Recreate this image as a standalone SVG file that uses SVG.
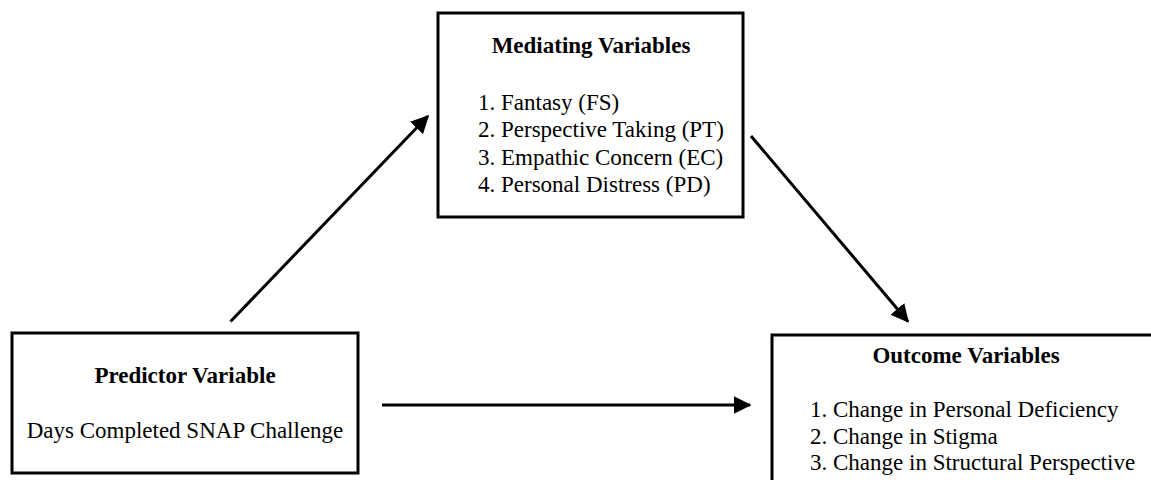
<svg xmlns="http://www.w3.org/2000/svg" width="1151" height="480" viewBox="0 0 1151 480">
<style>
.box{fill:#fff;stroke:#000;stroke-width:3}
.t{font-family:'Liberation Serif','Times New Roman','DejaVu Serif',serif;font-size:23px;fill:#000}
.b{font-weight:bold}
.c{text-anchor:middle}
.conn{stroke:#000;stroke-width:3;fill:none}
</style>
<defs>
<marker id="ah" markerWidth="6" markerHeight="6" refX="5.5" refY="3" orient="auto" markerUnits="strokeWidth" viewBox="0 0 6 6">
<path d="M0,0 L6,3 L0,6 Z" fill="#000"/>
</marker>
</defs>
<rect width="1151" height="480" fill="#fff"/>
<g id="mediating" font-family="Liberation Serif, Times New Roman, serif">
<rect class="box" x="438" y="13" width="305" height="204"/>
<text class="t b c" x="591" y="53">Mediating Variables</text>
<text class="t" x="478" y="110">1. Fantasy (FS)</text>
<text class="t" x="478" y="137">2. Perspective Taking (PT)</text>
<text class="t" x="478" y="164.5">3. Empathic Concern (EC)</text>
<text class="t" x="478" y="192">4. Personal Distress (PD)</text>
</g>
<g id="predictor" font-family="Liberation Serif, Times New Roman, serif">
<rect class="box" x="12" y="333" width="346" height="140"/>
<text class="t b c" x="185" y="383">Predictor Variable</text>
<text class="t c" x="185" y="438">Days Completed SNAP Challenge</text>
</g>
<g id="outcome" font-family="Liberation Serif, Times New Roman, serif">
<rect class="box" x="772" y="335" width="400" height="160"/>
<text class="t b c" x="966" y="363">Outcome Variables</text>
<text class="t" x="810" y="417">1. Change in Personal Deficiency</text>
<text class="t" x="810" y="443.5">2. Change in Stigma</text>
<text class="t" x="810" y="470">3. Change in Structural Perspective</text>
</g>
<g id="connectors">
<line class="conn" x1="230.5" y1="321.5" x2="428" y2="116" marker-end="url(#ah)"/>
<line class="conn" x1="751" y1="136" x2="908" y2="321.5" marker-end="url(#ah)"/>
<line class="conn" x1="382" y1="405" x2="750" y2="405" marker-end="url(#ah)"/>
</g>
</svg>
